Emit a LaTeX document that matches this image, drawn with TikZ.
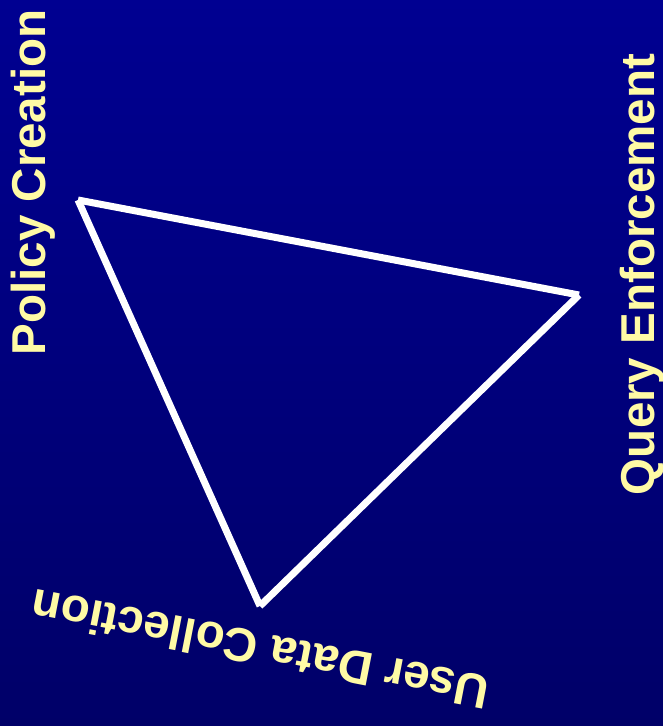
\documentclass[tikz,border=0pt]{standalone}
\usepackage{fontspec}
\setmainfont{Liberation Sans}
\definecolor{bgtop}{RGB}{0,0,145}
\definecolor{bgbot}{RGB}{0,0,104}
\definecolor{labelyellow}{RGB}{255,250,165}
\begin{document}
\begin{tikzpicture}[x=1bp,y=1bp,
  edge/.style={draw=white,line width=7bp,line cap=butt},
  vlabel/.style={text=labelyellow,font=\fontsize{47.7pt}{50pt}\selectfont\bfseries,anchor=base,inner sep=0pt}]
\useasboundingbox (0,0) rectangle (663,726);
\shade[top color=bgtop,bottom color=bgbot] (0,0) rectangle (663,726);
\coordinate (A) at (78,526);
\coordinate (B) at (579,431);
\coordinate (C) at (260,120);
\draw[edge] (A) -- (B);
\draw[edge] (B) -- (C);
\draw[edge] (C) -- (A);
\node[vlabel,rotate=90] (policy) at (45,543.5) {Policy Creation};
\node[vlabel,rotate=90] (query) at (654,451.5) {Query Enforcement};
\node[vlabel,rotate=169] (user) at (263.5,93) {User Data Collection};
\end{tikzpicture}
\end{document}
